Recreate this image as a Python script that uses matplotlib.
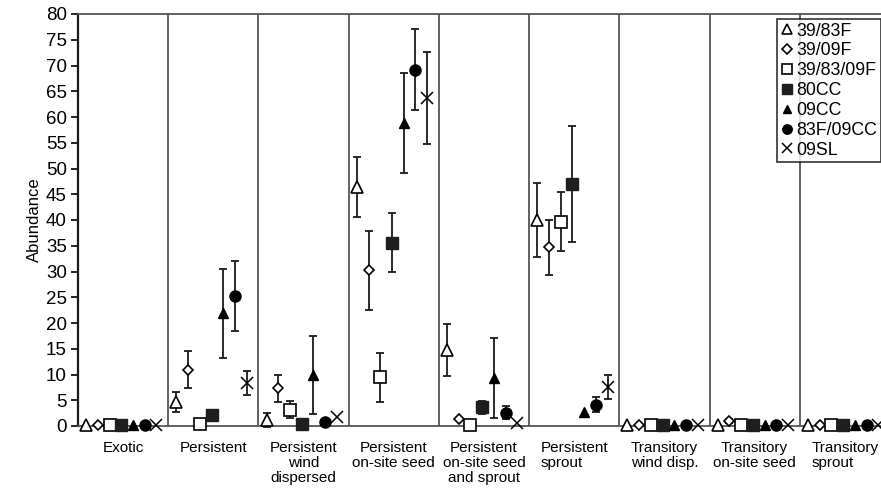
import numpy as np
import matplotlib
matplotlib.use("Agg")
import matplotlib.pyplot as plt

plt.rcParams['font.family'] = ['Liberation Sans', 'DejaVu Sans']

categories = ["Exotic", "Persistent", "Persistent\nwind\ndispersed",
              "Persistent\non-site seed", "Persistent\non-site seed\nand sprout",
              "Persistent\nsprout", "Transitory\nwind disp.",
              "Transitory\non-site seed", "Transitory\nsprout"]
left_aligned = [5, 8]

series = ["39/83F", "39/09F", "39/83/09F", "80CC", "09CC", "83F/09CC", "09SL"]

# medias y errores
v_39_83F = [0.1, 4.7, 1.2, 46.4, 14.8, 40.0, 0.1, 0.1, 0.1]
e_39_83F = [0, 1.9, 1.4, 5.9, 5.1, 7.1, 0, 0, 0]
v_39_09F = [0.1, 10.9, 7.3, 30.2, 1.3, 34.7, 0.1, 1.0, 0.1]
e_39_09F = [0, 3.6, 2.6, 7.7, 0, 5.35, 0, 0.4, 0]
v_39_83_09F = [0.1, 0.4, 3.2, 9.5, 0.2, 39.7, 0.1, 0.1, 0.1]
e_39_83_09F = [0, 0, 1.7, 4.75, 0, 5.7, 0, 0, 0]
v_80CC = [0.1, 2.1, 0.4, 35.6, 3.6, 47.0, 0.1, 0.1, 0.1]
e_80CC = [0, 0, 0, 5.7, 1.2, 11.3, 0, 0, 0]
v_09CC = [0.1, 21.9, 9.9, 58.8, 9.3, 2.8, 0.1, 0.1, 0.1]
e_09CC = [0, 8.6, 7.6, 9.7, 7.8, 0, 0, 0, 0]
v_83F_09CC = [0.1, 25.3, 0.8, 69.2, 2.6, 4.1, 0.1, 0.1, 0.1]
e_83F_09CC = [0, 6.8, 0, 7.8, 1.3, 1.45, 0, 0, 0]
v_09SL = [0.1, 8.3, 1.8, 63.7, 0.6, 7.6, 0.1, 0.1, 0.1]
e_09SL = [0, 2.35, 0, 8.9, 0, 2.4, 0, 0, 0]

valores = [v_39_83F, v_39_09F, v_39_83_09F, v_80CC, v_09CC, v_83F_09CC, v_09SL]
errores = [e_39_83F, e_39_09F, e_39_83_09F, e_80CC, e_09CC, e_83F_09CC, e_09SL]

estilos = [
    dict(marker='^', ms=9, mfc='white', mec='black', mew=1.2),
    dict(marker='D', ms=5.5, mfc='white', mec='black', mew=1.2),
    dict(marker='s', ms=8.4, mfc='white', mec='black', mew=1.2),
    dict(marker='s', ms=8.4, mfc='#1e1e1e', mec='#1e1e1e', mew=1.0),
    dict(marker='^', ms=7, mfc='black', mec='black', mew=1.0),
    dict(marker='o', ms=8, mfc='black', mec='black', mew=1.0),
    dict(marker='x', ms=8.4, mfc='black', mec='black', mew=1.1),
]

fig = plt.figure(figsize=(8.81, 4.96), dpi=100)
ax = fig.add_axes([78 / 881, 1 - 426 / 496, 812 / 881, 412 / 496])

centros = np.arange(len(categories)) + 0.5
paso = 0.13

handles = []
for k, nombre in enumerate(series):
    x = centros + (k - 3) * paso - 0.02
    y = np.array(valores[k])
    e = np.array(errores[k])
    m = e > 0
    ax.errorbar(x[m], y[m], yerr=e[m], fmt='none', ecolor='#1a1a1a',
                elinewidth=1.3, capsize=2.8, capthick=1.3, zorder=3, clip_on=False)
    h, = ax.plot(x, y, linestyle='none', zorder=4, clip_on=False, label=nombre, **estilos[k])
    handles.append(h)

for i in range(1, len(categories)):
    ax.axvline(i, color='#555555', lw=1.3, zorder=1)

ax.set_xlim(0, len(categories))
ax.set_ylim(0, 80)
ax.set_yticks(np.arange(0, 81, 5))
ax.set_xticks(centros, categories)
ax.tick_params(axis='x', length=0, pad=10.5, labelsize=11)
ax.tick_params(axis='y', length=5, width=1.2, direction='out', labelsize=13.5, pad=3)
for i in left_aligned:
    ax.get_xticklabels()[i].set_multialignment('left')
for lbl in ax.get_xticklabels():
    lbl.set_linespacing(1.1)

for lado in ['top', 'bottom', 'right']:
    ax.spines[lado].set_color('#555555')
    ax.spines[lado].set_linewidth(1.3)
ax.spines['left'].set_color('#1a1a1a')
ax.spines['left'].set_linewidth(1.6)

ax.set_ylabel("Abundance", fontsize=12, labelpad=3)

leg = fig.legend(handles=handles, loc='upper left',
                 bbox_to_anchor=(777 / 881, 1 - 19 / 496),
                 fontsize=12.8, frameon=True, fancybox=False, handlelength=0.75,
                 handletextpad=0.15, labelspacing=0.16, borderpad=0.2,
                 borderaxespad=0, markerscale=0.85)
leg.get_frame().set_edgecolor('black')
leg.get_frame().set_linewidth(1.2)

fig.savefig("out.png", dpi=100)
